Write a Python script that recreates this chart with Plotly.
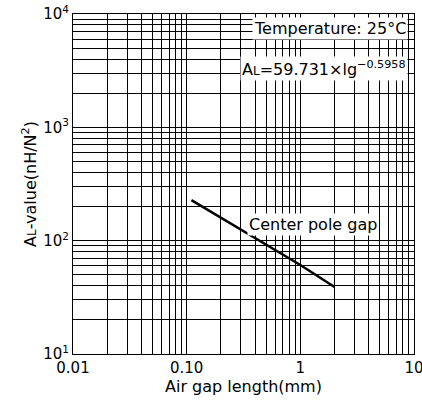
import plotly.graph_objects as go

# Data
gap_mm = [0.11, 1.0, 2.0]
al_value = [228, 61, 39]

x_ticks = [0.01, 0.1, 1, 10]
x_ticktext = ["0.01", "0.10", "1", "10"]
y_ticks = [10, 100, 1000, 10000]
y_ticktext = ["10<sup>1</sup>", "10<sup>2</sup>", "10<sup>3</sup>", "10<sup>4</sup>"]

x_minor = [m * d for d in (0.01, 0.1, 1) for m in range(2, 10)]
y_minor = [m * d for d in (10, 100, 1000) for m in range(2, 10)]

FONT = "DejaVu Sans, sans-serif"

fig = go.Figure()
fig.add_trace(go.Scatter(x=gap_mm, y=al_value, mode="lines",
                         line=dict(color="black", width=2.5), showlegend=False))

axis_common = dict(type="log", showgrid=True, gridcolor="black", gridwidth=1,
                   showline=True, linecolor="black", linewidth=1, mirror=True,
                   ticks="", ticklen=0, zeroline=False, automargin=False,
                   ticklabeloverflow="allow",
                   tickfont=dict(family=FONT, size=15, color="black"))

fig.update_xaxes(range=[-2, 1], tickvals=x_ticks, ticktext=x_ticktext,
                 minor=dict(tickvals=x_minor, showgrid=True, gridcolor="black", gridwidth=1),
                 title=dict(text="Air gap length(mm)", font=dict(family=FONT, size=16, color="black"),
                            standoff=2),
                 **axis_common)
fig.update_yaxes(range=[1, 4], tickvals=y_ticks, ticktext=y_ticktext,
                 minor=dict(tickvals=y_minor, showgrid=True, gridcolor="black", gridwidth=1),
                 title=dict(text="A<span style='font-size:12px'>L</span>-value(nH/N<sup>2</sup>)",
                            font=dict(family=FONT, size=16, color="black"), standoff=2),
                 **axis_common)

fig.add_annotation(x=1, y=0.956, xref="paper", yref="paper", xanchor="right", yanchor="middle",
                   xshift=-6, text="Temperature: 25°C", showarrow=False, bgcolor="white",
                   font=dict(family=FONT, size=16, color="black"), borderpad=1)
fig.add_annotation(x=1, y=0.84, xref="paper", yref="paper", xanchor="right", yanchor="middle",
                   xshift=-6,
                   text="A<span style='font-size:12px'>L</span>=59.731×lg<sup>−0.5958</sup>",
                   showarrow=False, bgcolor="white",
                   font=dict(family=FONT, size=16, color="black"), borderpad=1)
fig.add_annotation(x=0.704, y=0.382, xref="paper", yref="paper", xanchor="center", yanchor="middle",
                   text="Center pole gap", showarrow=False, bgcolor="white",
                   font=dict(family=FONT, size=16, color="black"), borderpad=1)

fig.update_layout(width=422, height=401, margin=dict(l=73, r=8, t=14, b=47),
                  plot_bgcolor="white", paper_bgcolor="white")

fig.write_html("out.html", config={"displayModeBar": False},
               post_script="document.body.style.margin='0';")
